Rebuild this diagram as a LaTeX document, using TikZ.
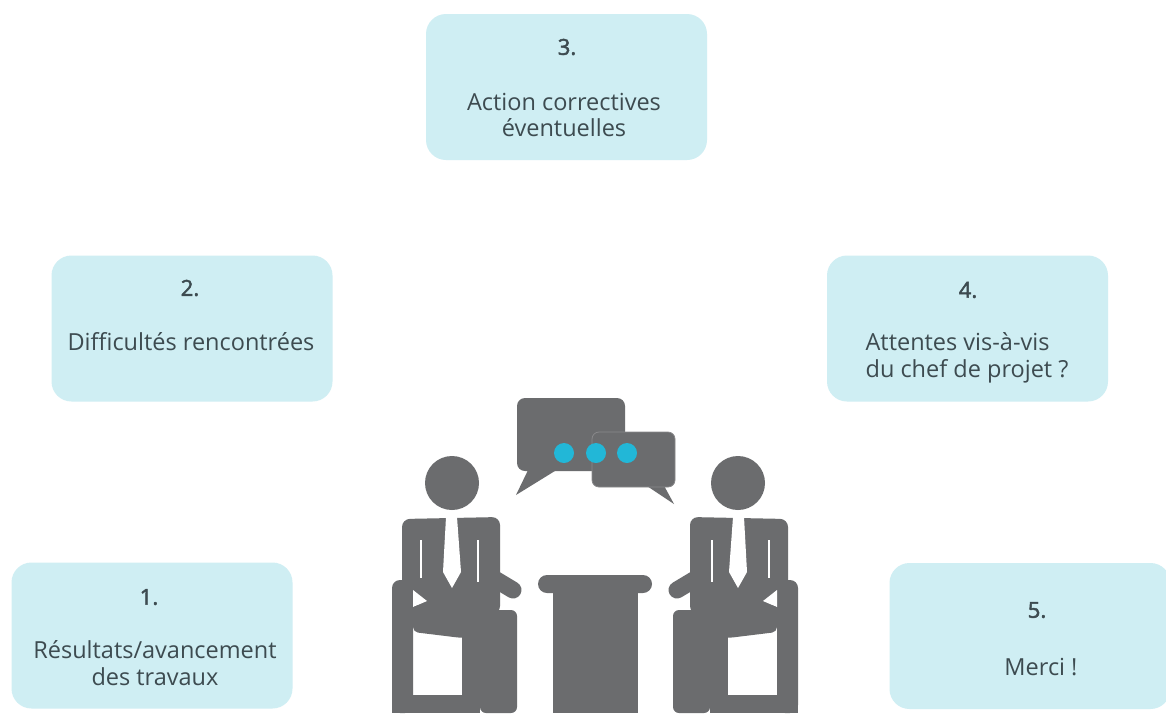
\documentclass[tikz,border=0pt]{standalone}
\usepackage{fontspec}
\setmainfont{Open Sans}
\newfontfamily\numfont[FakeBold=2.2]{Open Sans}

\definecolor{cardfill}{HTML}{CFEEF3}
\definecolor{cardtext}{HTML}{3D4B50}
\definecolor{icongray}{HTML}{6B6C6E}
\definecolor{dotcyan}{HTML}{22B7D7}

\tikzset{
  card/.style={fill=cardfill, rounded corners=20pt, minimum width=281pt,
    minimum height=146pt, inner sep=0pt},
  num/.style={text=cardtext, inner sep=0pt, font=\numfont\fontsize{22}{26}\selectfont},
  body/.style={text=cardtext, inner sep=0pt, align=center,
    font=\fontsize{23.5}{26.5}\selectfont},
  % personnage assis sur sa chaise, tourne vers la table (x relatif au centre de la table)
  sitter/.pic={
    \fill[icongray] (-143,483) circle[radius=27pt];
    % chaise
    \fill[icongray, rounded corners=8pt] (-203,713) -- (-203,580) -- (-182,580) -- (-182,713) -- cycle;
    \fill[icongray] (-203,695) rectangle (-115,713);
    \fill[icongray] (-133,630) rectangle (-115,713);
    % buste et bras
    \fill[icongray, rounded corners=8pt] (-193,614) -- (-193,519) -- (-95,517) -- (-95,614) -- cycle;
    \draw[icongray, line width=17pt, line cap=round] (-102,578) -- (-82,590);
    \fill[white] (-182,590) -- (-168,601) -- (-182,607) -- cycle;
    % cuisse et jambe
    \fill[icongray, rounded corners=5pt] (-182,605) -- (-84,612) -- (-78,628) -- (-133,638) -- (-182,632) -- cycle;
    \fill[icongray, rounded corners=6pt] (-115,713) -- (-115,610) -- (-78,610) -- (-78,713) -- cycle;
    % cravate et plis des manches
    \fill[white] (-149,517) -- (-138,517) -- (-134,572) -- (-143,588) -- (-152,572) -- cycle;
    \draw[white, line width=2.5pt] (-174,540) -- (-174,578);
    \draw[white, line width=2.5pt] (-117,540) -- (-117,582);
  }
}

\begin{document}
\begin{tikzpicture}[x=1pt, y=-1pt]
    \useasboundingbox[fill=white] (0,0) rectangle (1166,713);

    % --- Les cinq etapes ---
    \node[card] (c1) at (152,635.5) {};
    \node[num]  (n1) at (149,597) {1.};
    \node[body] (t1) at (155,663) {Résultats/avancement\\des travaux};

    \node[card] (c2) at (192,328.5) {};
    \node[num]  (n2) at (190,288) {2.};
    \node[body] (t2) at (191,342) {Difficultés rencontrées};

    \node[card] (c3) at (566.5,87) {};
    \node[num]  (n3) at (567,47) {3.};
    \node[body] (t3) at (564,115) {Action correctives\\éventuelles};

    \node[card] (c4) at (967.5,328.5) {};
    \node[num]  (n4) at (968,290) {4.};
    \node[body, align=left] (t4) at (967,358) {Attentes vis-à-vis\\du chef de projet ?};

    \node[card] (c5) at (1030,636) {};
    \node[num]  (n5) at (1037,610) {5.};
    \node[body] (t5) at (1041,667) {Merci !};

    % --- Bulles de dialogue ---
    \fill[icongray, rounded corners=8pt] (517,398) rectangle (625,471);
    \fill[icongray] (530,466) -- (563,466) -- (516,495) -- cycle;
    \fill[icongray] (641,482) -- (662,482) -- (674,504) -- cycle;
    \filldraw[fill=icongray, draw=icongray!80!white, line width=0.8pt, rounded corners=7pt]
      (592,432) rectangle (675,487);
    \foreach \dx in {564,596,627}
      \fill[dotcyan] (\dx,453) circle[radius=10pt];

    % --- Table ---
    \fill[icongray] (553,588) rectangle (638,713);
    \fill[icongray, rounded corners=9pt] (538,575) rectangle (652,593);

    % --- Les deux interlocuteurs ---
    \pic (gauche) at (595,0) {sitter};
    \pic[xscale=-1] (droite) at (595,0) {sitter};
\end{tikzpicture}
\end{document}
